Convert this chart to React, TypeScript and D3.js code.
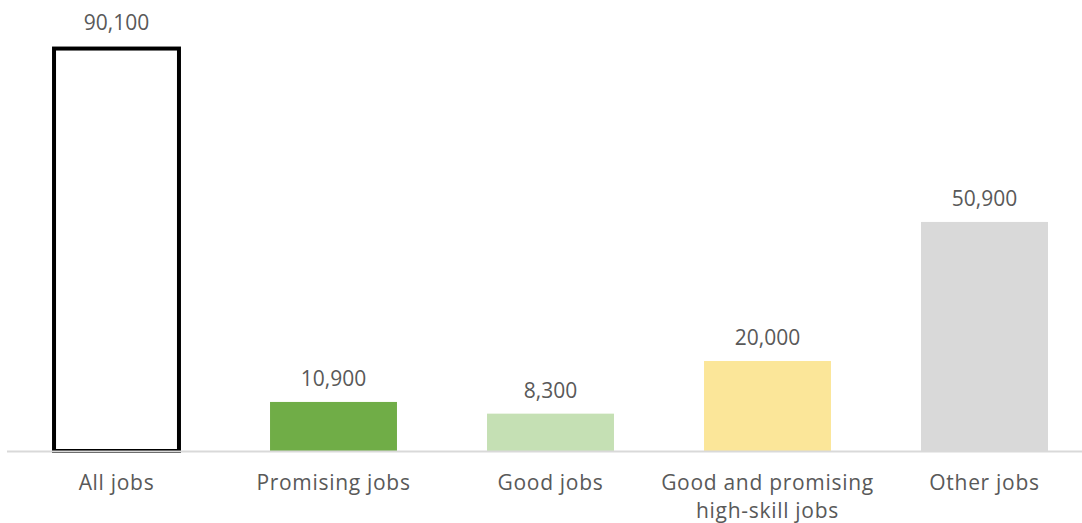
import React from "react";
import * as d3 from "d3";

const categories: string[][] = [
  ["All jobs"],
  ["Promising jobs"],
  ["Good jobs"],
  ["Good and promising", "high-skill jobs"],
  ["Other jobs"],
];
const values: number[] = [90100, 10900, 8300, 20000, 50900];
const fills: string[] = ["#ffffff", "#70AD47", "#C5E0B4", "#FBE699", "#D9D9D9"];

const W = 1082;
const H = 523;
const baseline = 451;

export default function App() {
  const keys = categories.map((c) => c.join(" "));
  const x = d3
    .scaleBand<string>()
    .domain(keys)
    .range([8, 1093])
    .paddingInner(0.415)
    .paddingOuter(0.2075);
  const y = d3.scaleLinear().domain([0, 100000]).range([baseline, 1]);
  const fmt = d3.format(",");
  const font = "'Open Sans', sans-serif";
  const textColor = "#595959";
  const bw = x.bandwidth();

  return (
    <svg
      width={W}
      height={H}
      style={{ position: "absolute", left: 0, top: 0, display: "block" }}
    >
      <rect x={0} y={0} width={W} height={H} fill="#ffffff" />
      {values.map((v, i) => {
        const x0 = x(keys[i])!;
        const top = y(v);
        if (i === 0) {
          const sw = 4;
          return (
            <rect
              key={i}
              x={x0 + sw / 2 - 1}
              y={top + sw / 2 + 1}
              width={bw - sw + 2}
              height={baseline - top - sw / 2 - 1}
              fill="#ffffff"
              stroke="#000000"
              strokeWidth={sw}
            />
          );
        }
        return (
          <rect
            key={i}
            x={x0}
            y={top}
            width={bw}
            height={baseline - top}
            fill={fills[i]}
          />
        );
      })}
      <line
        x1={7}
        x2={W}
        y1={baseline + 0.5}
        y2={baseline + 0.5}
        stroke="#D9D9D9"
        strokeWidth={2}
      />
      {values.map((v, i) => (
        <text
          key={"v" + i}
          x={x(keys[i])! + bw / 2}
          y={y(v) - 16}
          textAnchor="middle"
          fontFamily={font}
          fontSize={21}
          fill={textColor}
        >
          {fmt(v)}
        </text>
      ))}
      {categories.map((lines, i) => (
        <text
          key={"c" + i}
          x={x(keys[i])! + bw / 2}
          y={490}
          textAnchor="middle"
          fontFamily={font}
          fontSize={21}
          letterSpacing={0.7}
          fill={textColor}
        >
          {lines.map((l, j) => (
            <tspan key={j} x={x(keys[i])! + bw / 2} dy={j === 0 ? 0 : 28}>
              {l}
            </tspan>
          ))}
        </text>
      ))}
    </svg>
  );
}
